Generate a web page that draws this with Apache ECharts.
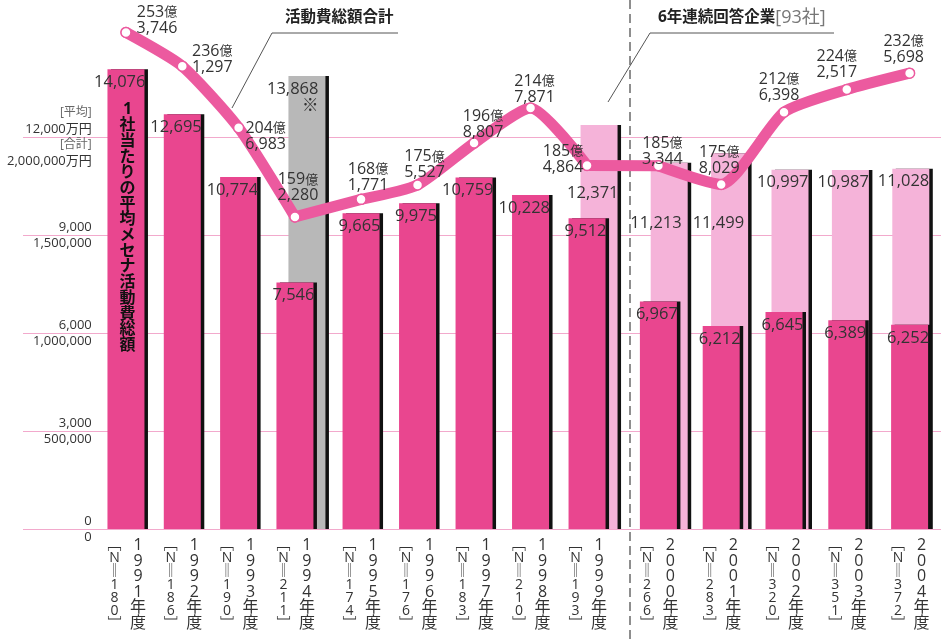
<!DOCTYPE html>
<html>
<head>
<meta charset="utf-8">
<script src="https://cdn.jsdelivr.net/npm/echarts@6/dist/echarts.min.js"></script>
<style>
html,body{margin:0;padding:0;background:#fff;}
#c{width:941px;height:640px;}
</style>
</head>
<body>
<div id="c"></div>
<script>
// ---- data ----
const years = ['1991年度','1992年度','1993年度','1994年度','1995年度','1996年度','1997年度','1998年度','1999年度','2000年度','2001年度','2002年度','2003年度','2004年度'];
const nCounts = ['180','186','190','211','174','176','183','210','193','266','283','320','351','372'];
const avgAll = [14076,12695,10774,7546,9665,9975,10759,10228,9512,6967,6212,6645,6389,6252];
const avgSub = [null,null,null,13868,null,null,null,null,12371,11213,11499,10997,10987,11028];
const subNote = ['','','','※','','','','','','','','','',''];
const totalOku = [253,236,204,159,168,175,196,214,185,185,175,212,224,232];
const totalMan = [3746,1297,6983,2280,1771,5527,8807,7871,4864,3344,8029,6398,2517,5698];
const avgTicks = ['0','3,000','6,000','9,000','12,000'];
const sumTicks = ['0','500,000','1,000,000','1,500,000','2,000,000'];
const verticalTitle = '1社当たりの平均メセナ活動費総額';
const lineTitle = '活動費総額合計';
const subTitle = '6年連続回答企業';
const subTitleNote = '[93社]';

// ---- layout / style (not data) ----
const segs = [[0,4],[4,9],[9,14]];
const segBox = [{left:97.8,width:225.3},{left:332.8,width:282.5},{left:627,width:320}];
const SUB_SHIFT = 12;
const TOP = 137, BOTTOM = 111;
const PINK = '#e9468f', LIGHT = '#f5b3d9', GRAY = '#b8b8b8', LINE = '#ec5a9f', GRID = '#f2a9cc';
const FONT = "'Open Sans','Noto Sans CJK JP',sans-serif";
const lineLabelOffset = [[31,-12],[30,-7],[27,9],[3,-29],[7,-22],[7,-20],[9,-19],[4,-19],[-24,-6],[4,-14],[-2,-24],[-5,-25],[-10,-25],[-6,-24]];
const subLabelOffset = [[0,4],[0,4],[0,4],[-7,5],[0,4],[0,4],[0,4],[0,4],[1,60],[-6,52],[-4,61],[0,4],[0,4],[0,4]];

const fmt = v => Number(v).toLocaleString('en-US');
const barShadow = {shadowColor:'#111', shadowOffsetX:3.5, shadowOffsetY:0, shadowBlur:0};

const grid = [{left:23, right:0, top:TOP, bottom:BOTTOM}];
const xAxis = [{type:'value', gridIndex:0, show:false, min:0, max:1}];
const yAxis = [{type:'value', gridIndex:0, min:0, max:12000, interval:3000,
  axisLine:{show:false}, axisTick:{show:false}, axisLabel:{show:false},
  splitLine:{show:true, lineStyle:{color:GRID, width:1}}}];
const series = [];

segs.forEach(([a,b], k) => {
  const box = segBox[k];
  grid.push({left:box.left, width:box.width, top:TOP, bottom:BOTTOM});
  grid.push({left:box.left + SUB_SHIFT, width:box.width, top:TOP, bottom:BOTTOM});
  const gMain = 1 + 2*k, gSub = 2 + 2*k;
  const xi = 1 + 3*k;
  // year axis
  xAxis.push({type:'category', gridIndex:gMain, position:'bottom', offset:0, data:years.slice(a,b),
    axisLine:{show:false}, axisTick:{show:false}, splitLine:{show:false},
    axisLabel:{interval:0, margin:9, color:'#333', fontFamily:FONT, fontSize:16, lineHeight:15.5,
      padding:[0,0,0,24], formatter: v => v.split('').join('\n')}});
  // N axis
  xAxis.push({type:'category', gridIndex:gMain, position:'bottom', offset:0, data:nCounts.slice(a,b),
    axisLine:{show:false}, axisTick:{show:false}, splitLine:{show:false},
    axisLabel:{interval:0, margin:9, color:'#333', fontFamily:FONT, fontSize:14, lineHeight:13.3,
      padding:[0,23,0,0], formatter: v => ['﹇','N','‖'].concat(v.split('')).concat(['﹈']).join('\n')}});
  // sub axis
  xAxis.push({type:'category', gridIndex:gSub, position:'bottom', data:years.slice(a,b), show:false});

  yAxis.push({type:'value', gridIndex:gMain, min:0, max:12000, interval:3000,
    show: k === 0,
    axisLine:{show:false}, axisTick:{show:false}, splitLine:{show:false},
    axisLabel:{show: k === 0, margin:6, align:'right', fontFamily:FONT, color:'#333',
      formatter: v => {
        const i = Math.round(v / 3000);
        if (i === avgTicks.length - 1) {
          return '{s|[平均]}\n{a|' + avgTicks[i] + '万円}\n{s|[合計]}\n{a|' + sumTicks[i] + '万円}';
        }
        return '{a|' + avgTicks[i] + '}\n{a|' + sumTicks[i] + '}';
      },
      rich:{a:{fontSize:13, lineHeight:16, color:'#333', fontFamily:FONT, align:'right'},
            s:{fontSize:12, lineHeight:16, color:'#666', fontFamily:FONT, align:'right'}}}});
  yAxis.push({type:'value', gridIndex:gMain, min:0, max:2000000, show:false, splitLine:{show:false}});
  yAxis.push({type:'value', gridIndex:gSub, min:0, max:12000, show:false, splitLine:{show:false}});

  // secondary bars (behind)
  series.push({type:'bar', name:subTitle, xAxisIndex:3+3*k, yAxisIndex:3+3*k, barWidth:37, clip:false, z:2,
    data: avgSub.slice(a,b).map((v,j) => ({
      value:v,
      itemStyle:Object.assign({color: subNote[a+j] ? GRAY : LIGHT}, barShadow),
      label:{offset: subLabelOffset[a+j]}
    })),
    label:{show:true, position:'insideTopRight', distance:0, color:'#333', fontFamily:FONT, fontSize:16.5, lineHeight:17, align:'right',
      formatter: p => fmt(p.value) + (subNote[a+p.dataIndex] ? '\n' + subNote[a+p.dataIndex] : '')}
  });
  // main bars
  series.push({type:'bar', name:verticalTitle, xAxisIndex:xi, yAxisIndex:1+3*k, barWidth:37, clip:false, z:3,
    data: avgAll.slice(a,b),
    itemStyle:Object.assign({color:PINK}, barShadow),
    label:{show:true, position:'insideTopRight', distance:0, offset:[1,5], color:'#333', fontFamily:FONT, fontSize:16.5,
      formatter: p => fmt(p.value)}
  });
  // line
  series.push({type:'line', name:lineTitle, xAxisIndex:xi, yAxisIndex:2+3*k, clip:false, z:5, smooth:0.2,
    data: totalOku.slice(a,b).map((o,j) => ({
      value: o*10000 + totalMan[a+j],
      label:{offset: lineLabelOffset[a+j]}
    })),
    lineStyle:{color:LINE, width:11, cap:'round', join:'round'},
    symbol:'circle', symbolSize:10, showAllSymbol:true,
    itemStyle:{color:'#fff', borderColor:LINE, borderWidth:1.5},
    label:{show:true, position:'inside', color:'#333', fontFamily:FONT,
      formatter: p => '{a|' + totalOku[a+p.dataIndex] + '}{b|億}\n{a|' + fmt(totalMan[a+p.dataIndex]) + '}',
      rich:{a:{fontSize:16, lineHeight:16, color:'#333', fontFamily:FONT},
            b:{fontSize:13, lineHeight:16, color:'#333', fontFamily:FONT}}}
  });
});

const graphic = [
  {type:'line', id:'sep', z:1, shape:{x1:630,y1:0,x2:630,y2:640}, style:{stroke:'#444', lineWidth:1.2, lineDash:[9,5]}},
  {type:'polyline', id:'ann1', z:6, shape:{points:[[232,108],[272,33],[398,33]]}, style:{stroke:'#555', lineWidth:1, fill:null}},
  {type:'text', id:'ann1t', z:6, x:285, y:10, style:{text:lineTitle, fontSize:15.5, fontWeight:'bold', fill:'#222', fontFamily:FONT}},
  {type:'polyline', id:'ann2', z:6, shape:{points:[[608,102],[650,33],[834,33]]}, style:{stroke:'#555', lineWidth:1, fill:null}},
  {type:'text', id:'ann2t', z:6, x:658, y:9, style:{text:'{b|' + subTitle + '}{g|' + subTitleNote + '}',
    rich:{b:{fontSize:15.5, fontWeight:'bold', fill:'#222', fontFamily:FONT}, g:{fontSize:18, fill:'#777', fontFamily:FONT}}}},
  {type:'text', id:'vt', z:6, x:127.5, y:102, style:{text:verticalTitle.split('').join('\n'), fontSize:16, fontWeight:'bold',
    lineHeight:15.7, fill:'#111', align:'center', verticalAlign:'top', fontFamily:FONT}}
];

const chart = echarts.init(document.getElementById('c'), null, {renderer:'canvas'});
chart.setOption({animation:false, backgroundColor:'#fff', grid, xAxis, yAxis, series, graphic});

// connectors between segments, placed through the library's scales
const conn = [];
for (let k = 0; k < segs.length - 1; k++) {
  const i1 = segs[k][1] - 1, i2 = segs[k+1][0];
  const p1 = chart.convertToPixel({xAxisIndex:1+3*k, yAxisIndex:2+3*k}, [years[i1], totalOku[i1]*10000 + totalMan[i1]]);
  const p2 = chart.convertToPixel({xAxisIndex:1+3*(k+1), yAxisIndex:2+3*(k+1)}, [years[i2], totalOku[i2]*10000 + totalMan[i2]]);
  conn.push({type:'line', id:'conn'+k, z:4, shape:{x1:p1[0],y1:p1[1],x2:p2[0],y2:p2[1]},
    style:{stroke:LINE, lineWidth:11, lineCap:'round'}});
}
chart.setOption({graphic: conn});
</script>
</body>
</html>
